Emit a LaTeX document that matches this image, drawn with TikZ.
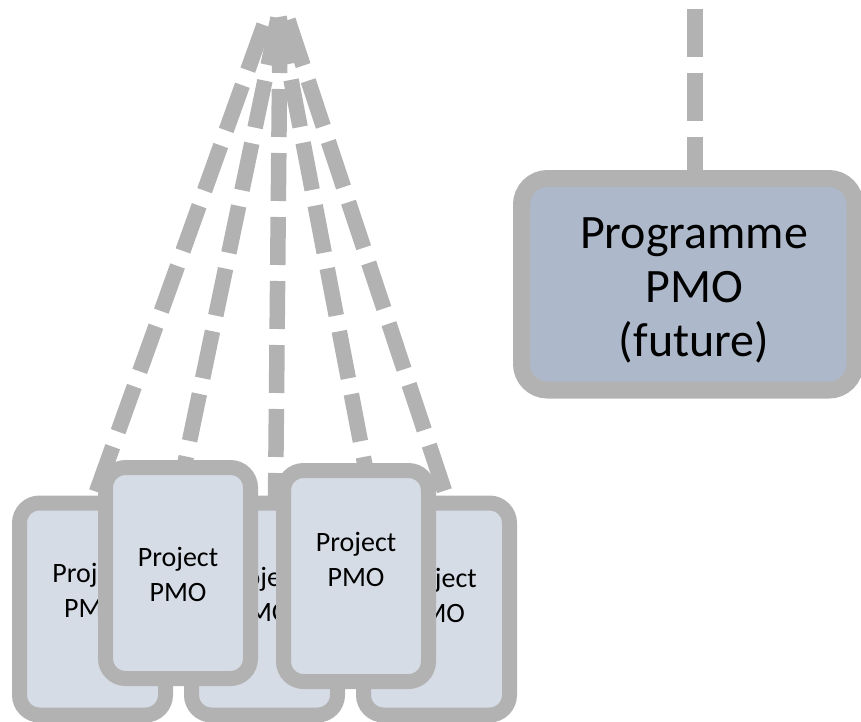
\documentclass[tikz,border=0pt]{standalone}
\usepackage{fontspec}
\setmainfont{Carlito}
\usetikzlibrary{calc}

\definecolor{linegray}{RGB}{178,178,178}
\definecolor{projfill}{RGB}{214,220,229}
\definecolor{progfill}{RGB}{173,185,202}

\begin{document}
\begin{tikzpicture}[x=1pt,y=-1pt,
  projbox/.style={draw=linegray, line width=15pt, fill=projfill,
    rounded corners=20pt, inner sep=0pt, outer sep=0pt,
    minimum width=146pt, minimum height=212pt},
  frontbox/.style={projbox, minimum width=145pt, minimum height=211pt},
  progbox/.style={draw=linegray, line width=17pt, fill=progfill,
    rounded corners=26pt, inner sep=0pt, outer sep=0pt,
    minimum width=333.5pt, minimum height=211.5pt},
  projtext/.style={align=center, inner sep=0pt,
    font=\fontsize{28}{35}\selectfont},
  progtext/.style={align=center, inner sep=0pt,
    font=\fontsize{48}{54}\selectfont},
  link/.style={draw=linegray, line width=15.5pt,
    dash pattern=on 48pt off 16pt},
]
\useasboundingbox (0,0) rectangle (861,721);

% programme office and its link upwards
\node[progbox] (progPMO) at (688.25,284.25) {};
\node[progtext] (progLabel) at (694,290) {Programme\\PMO\\(future)};
\coordinate (progTop) at (695,9);
\draw[link] (progTop) -- (progTop |- progPMO.north);

% project offices, back row
\node[projbox] (backL) at (92.5,609) {};
\node[projtext] (backLLabel) at (92.5,590) {Project\\PMO};
\node[projbox] (backM) at (264.5,609) {};
\node[projtext] (backMLabel) at (262,594) {Project\\PMO};
\node[projbox] (backR) at (436.5,609) {};
\node[projtext] (backRLabel) at (436.5,595) {Project\\PMO};

% project offices, front row
\node[frontbox] (frontL) at (178,573) {};
\node[projtext] (frontLLabel) at (178,574) {Project\\PMO};
\node[frontbox] (frontR) at (356,576) {};
\node[projtext] (frontRLabel) at (356,559) {Project\\PMO};

% dashed reporting lines converging at the top
\coordinate (fanTop1) at (264,25);
\coordinate (fanTop2) at (278,18);
\coordinate (fanTop3) at (280,25);
\coordinate (fanTop4) at (279,17);
\coordinate (fanTop5) at (288,20);
\draw[link] (fanTop1) -- (backL.north);
\draw[link] (fanTop2) -- ($(frontL.north)+(6,0)$);
\draw[link] (fanTop3) -- ($(backM.north)+(11,0)$);
\draw[link] (fanTop4) -- ($(frontR.north)+(10,0)$);
\draw[link] (fanTop5) -- ($(backR.north)+(12,0)$);
\end{tikzpicture}
\end{document}
